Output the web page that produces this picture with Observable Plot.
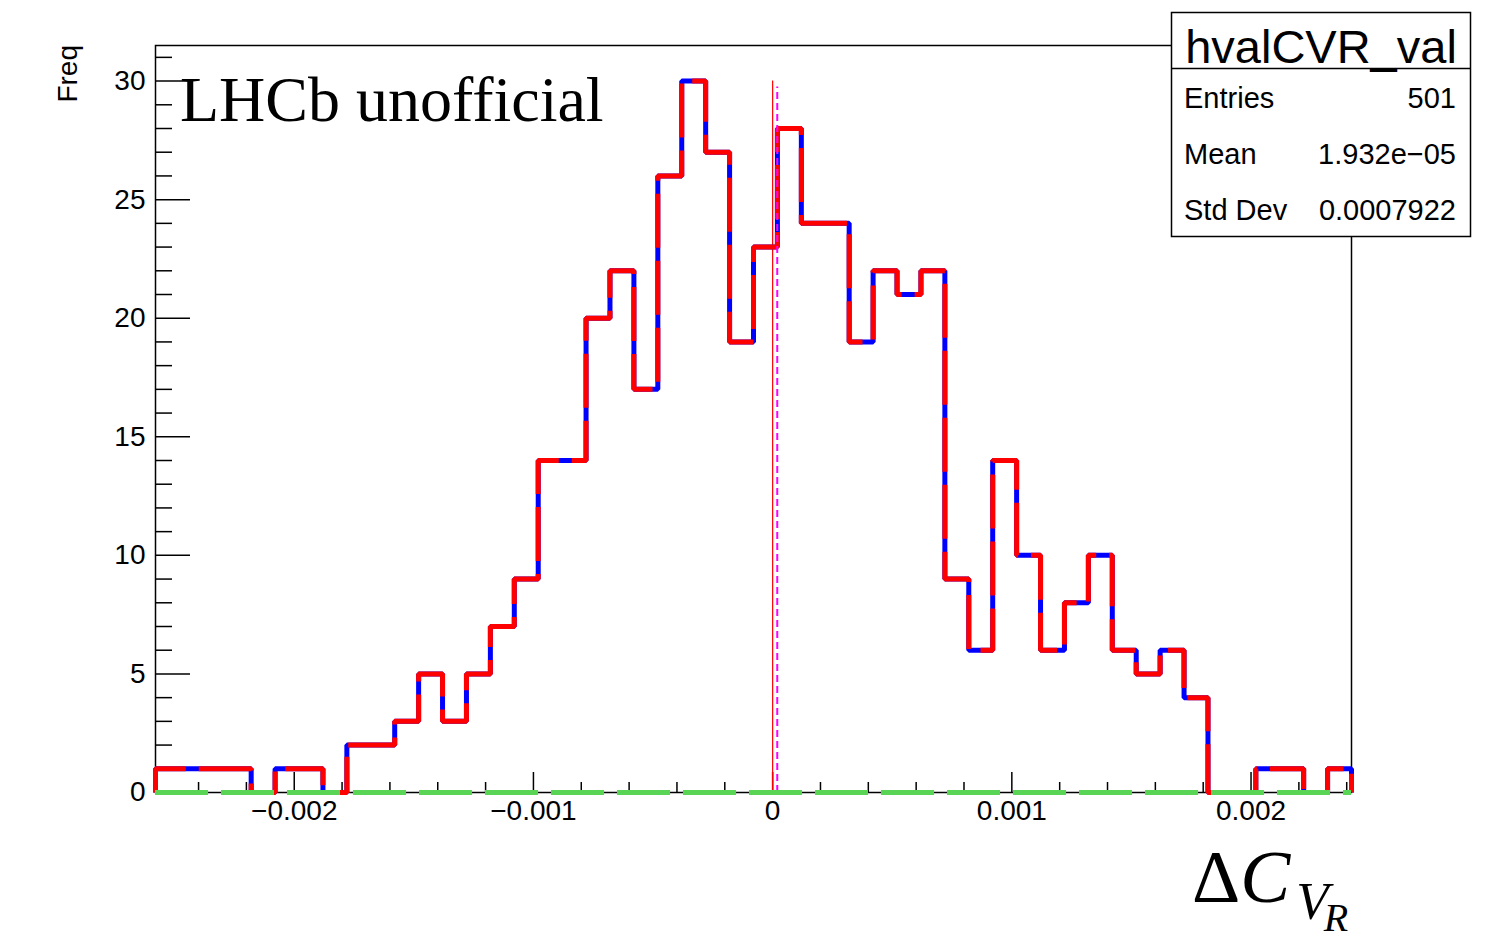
<!DOCTYPE html>
<html><head><meta charset="utf-8">
<script src="https://cdn.jsdelivr.net/npm/d3@7"></script>
<script src="https://cdn.jsdelivr.net/npm/@observablehq/plot@0.6"></script>
<style>html,body{margin:0;padding:0;background:#fff;} svg{display:block}</style>
</head><body><div id="chart"></div>
<script>
// ---- data ----
const binLow = -0.00258;
const binWidth = 0.0001;
const counts = [1,1,1,1,0,1,1,0,2,2,3,5,3,5,7,9,14,14,20,22,17,26,30,27,19,23,28,24,24,19,22,21,22,9,6,14,10,6,8,10,6,5,6,4,0,0,1,1,0,1];
const xTickValues = [-0.002,-0.001,0,0.001,0.002];
const yTickValues = [0,5,10,15,20,25,30];
const yMax = 31.5;
const statsTitle = "hvalCVR_val";
const statsLabels = ["Entries","Mean","Std Dev"];
const statsValues = ["501","1.932e\u221205","0.0007922"];
const meanValue = 1.932e-5;
const zeroLine = [{x: 0, y1: 0, y2: 30}];
const meanLine = [{x: meanValue, y1: 0, y2: 29.75}];
const yLabel = "Freq";
const watermark = "LHCb unofficial";

// ---- derived ----
const nBins = counts.length;
const binHigh = binLow + nBins * binWidth;
const histPts = [{x: binLow, y: 0}]
  .concat(counts.map((c, i) => ({x: binLow + i * binWidth, y: c})))
  .concat([{x: binHigh, y: counts[nBins - 1]}, {x: binHigh, y: 0}]);
const yMinor = d3.range(0, 32, 1).filter(v => v % 5 !== 0);
const xMinor = d3.range(-24, 25, 2).filter(k => k % 10 !== 0).map(k => k * 1e-4);

const W = 1490, H = 936, mL = 155, mR = 139, mT = 45, mB = 144;
const fw = W - mL - mR, fh = H - mT - mB;
const fmtX = d => d === 0 ? "0" : d3.format(".3f")(d);

const plot = Plot.plot({
  width: W, height: H,
  marginLeft: mL, marginRight: mR, marginTop: mT, marginBottom: mB,
  x: {domain: [binLow, binHigh]},
  y: {domain: [0, yMax]},
  style: {fontFamily: "'Liberation Sans', Arial, Helvetica, sans-serif", fontSize: "28px", color: "#000", background: "#fff", overflow: "visible"},
  marks: [
    Plot.frame({stroke: "#000", strokeWidth: 1.5}),
    Plot.axisY({ticks: yTickValues, tickSize: 0, tickPadding: 10, fontSize: 28, label: null, tickFormat: d => String(d)}),
    Plot.axisX({ticks: xTickValues, tickSize: 0, tickPadding: 8, fontSize: 28, label: null, tickFormat: fmtX}),
    Plot.tickY(yTickValues, {y: d => d, insetRight: fw - 35, stroke: "#000", strokeWidth: 1.5}),
    Plot.tickY(yMinor, {y: d => d, insetRight: fw - 17, stroke: "#000", strokeWidth: 1.5}),
    Plot.tickX(xTickValues, {x: d => d, insetTop: fh - 20, stroke: "#000", strokeWidth: 1.5}),
    Plot.tickX(xMinor, {x: d => d, insetTop: fh - 10, stroke: "#000", strokeWidth: 1.5}),
    Plot.ruleX(zeroLine, {x: "x", y1: "y1", y2: "y2", stroke: "#ff0000", strokeWidth: 1.2}),
    Plot.line(histPts, {x: "x", y: "y", curve: "step-after", stroke: "#0000ff", strokeWidth: 5, strokeLinejoin: "miter", strokeLinecap: "butt"}),
    Plot.line(histPts, {x: "x", y: "y", curve: "step-after", stroke: "#ff0000", strokeWidth: 5, strokeDasharray: "54,13", strokeLinejoin: "miter", strokeLinecap: "butt"}),
    Plot.ruleX(meanLine, {x: "x", y1: "y1", y2: "y2", stroke: "#ff00ff", strokeWidth: 2, strokeDasharray: "7,4"}),
    Plot.ruleY([0], {stroke: "#59d454", strokeWidth: 5, strokeDasharray: "53,13"})
  ]
});

const svg = d3.select(plot);

// y axis title
svg.append("text")
  .attr("transform", "translate(77,45) rotate(-90)")
  .attr("text-anchor", "end")
  .attr("font-family", "'Liberation Sans', Arial, sans-serif")
  .attr("font-size", 28)
  .attr("fill", "#000")
  .text(yLabel);

// watermark
svg.append("text")
  .attr("x", 180).attr("y", 121)
  .attr("text-anchor", "start")
  .attr("font-family", "'Liberation Serif', 'Times New Roman', serif")
  .attr("font-size", 64)
  .attr("fill", "#000")
  .text(watermark);

// stats box
const box = svg.append("g").attr("font-family", "'Liberation Sans', Arial, sans-serif").attr("fill", "#000");
box.append("rect").attr("x", 1171.5).attr("y", 12.5).attr("width", 299).attr("height", 224)
  .attr("fill", "#fff").attr("stroke", "#000").attr("stroke-width", 1.5);
box.append("line").attr("x1", 1171.5).attr("x2", 1470.5).attr("y1", 68.5).attr("y2", 68.5)
  .attr("stroke", "#000").attr("stroke-width", 1.5);
box.append("text").attr("x", 1321).attr("y", 63).attr("text-anchor", "middle")
  .attr("font-size", 47).text(statsTitle);
const rowY = [108, 164, 220];
statsLabels.forEach((lab, i) => {
  box.append("text").attr("x", 1184).attr("y", rowY[i]).attr("text-anchor", "start").attr("font-size", 29).text(lab);
  box.append("text").attr("x", 1456).attr("y", rowY[i]).attr("font-size", 29).attr("text-anchor", "end").text(statsValues[i]);
});

// x axis title: ΔC_{V_R}
const xt = svg.append("text")
  .attr("x", 1192).attr("y", 902)
  .attr("text-anchor", "start")
  .attr("font-family", "'Liberation Serif', 'Times New Roman', serif")
  .attr("fill", "#000");
xt.append("tspan").attr("font-size", 75).text("\u0394");
xt.append("tspan").attr("font-size", 75).attr("font-style", "italic").text("C");
xt.append("tspan").attr("font-size", 53).attr("font-style", "italic").attr("dy", 17).attr("dx", 6).text("V");
xt.append("tspan").attr("font-size", 40).attr("font-style", "italic").attr("dy", 12).attr("dx", -5).text("R");

document.getElementById("chart").appendChild(plot);
</script>
</body></html>
